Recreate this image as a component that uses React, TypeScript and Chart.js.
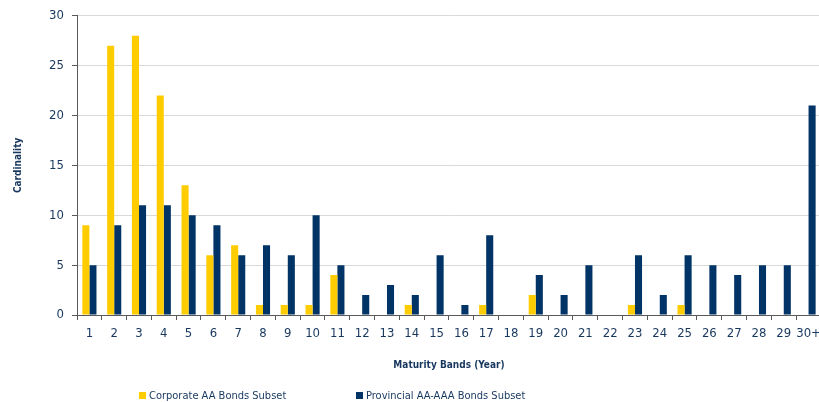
import React, { useEffect, useRef } from "react";
import { Chart, registerables } from "chart.js";

Chart.register(...registerables);

const categories = ["1","2","3","4","5","6","7","8","9","10","11","12","13","14","15","16","17","18","19","20","21","22","23","24","25","26","27","28","29","30+"];
const corporateAA = [9,27,28,22,13,6,7,1,1,1,4,0,0,1,0,0,1,0,2,0,0,0,1,0,1,0,0,0,0,0];
const provincialAAA = [5,9,11,11,10,9,6,7,6,10,5,2,3,2,6,1,8,0,4,2,5,0,6,2,6,5,4,5,5,21];
const seriesNames = ["Corporate AA Bonds Subset", "Provincial AA-AAA Bonds Subset"];
const yTicks = [0, 5, 10, 15, 20, 25, 30];

const YELLOW = "#FFCC00";
const NAVY = "#003366";
const TEXT = "#17375E";
const FONT = "'DejaVu Sans Condensed', 'DejaVu Sans', sans-serif";

const legendPlugin = {
  id: "customLegend",
  afterDraw(chart: any) {
    const ctx = chart.ctx;
    const items = [
      { x: 139, color: YELLOW, label: seriesNames[0] },
      { x: 356, color: NAVY, label: seriesNames[1] },
    ];
    const y = 396;
    ctx.save();
    ctx.font = `11px ${FONT}`;
    ctx.textBaseline = "middle";
    ctx.textAlign = "left";
    for (const it of items) {
      ctx.fillStyle = it.color;
      ctx.fillRect(it.x, y - 4, 7, 7);
      ctx.fillStyle = TEXT;
      ctx.fillText(it.label, it.x + 10, y);
    }
    ctx.restore();
  },
};

export default function App() {
  const ref = useRef<HTMLCanvasElement>(null);
  useEffect(() => {
    document.body.style.margin = "0";
    const chart = new Chart(ref.current!, {
      type: "bar",
      data: {
        labels: categories,
        datasets: [
          { label: seriesNames[0], data: corporateAA, backgroundColor: YELLOW, barPercentage: 1, categoryPercentage: 0.57 },
          { label: seriesNames[1], data: provincialAAA, backgroundColor: NAVY, barPercentage: 1, categoryPercentage: 0.57 },
        ],
      },
      options: {
        responsive: false,
        animation: false,
        devicePixelRatio: 1,
        layout: { padding: { top: 15, right: 6, bottom: 27, left: 0 } },
        plugins: { legend: { display: false }, tooltip: { enabled: false } },
        scales: {
          x: {
            grid: { display: true, drawOnChartArea: false, offset: true, tickLength: 5, color: "#595959" },
            border: { color: "#595959" },
            ticks: { color: TEXT, font: { family: FONT, size: 13 }, padding: 6, maxRotation: 0, autoSkip: false },
            title: { display: true, text: "Maturity Bands (Year)", color: TEXT, font: { family: FONT, size: 10, weight: "bold" }, padding: { top: 0, bottom: 4 } },
            afterFit(scale: any) { scale.height = 60; },
          },
          y: {
            min: 0,
            max: 30,
            afterBuildTicks(scale: any) { scale.ticks = yTicks.map((v) => ({ value: v })); },
            grid: { color: "#D9D9D9", tickLength: 5, tickColor: "#595959" },
            border: { color: "#595959" },
            ticks: { color: TEXT, font: { family: FONT, size: 13 }, padding: 8 },
            title: { display: true, text: "Cardinality", color: TEXT, font: { family: FONT, size: 10, weight: "bold" }, padding: { top: 12, bottom: 0 } },
            afterFit(scale: any) { scale.width = 77; },
          },
        },
      },
      plugins: [legendPlugin],
    });
    return () => chart.destroy();
  }, []);
  return (
    <div style={{ position: "absolute", left: 0, top: 0, width: 819, height: 402, overflow: "hidden", background: "#fff" }}>
      <canvas ref={ref} width={827} height={402} style={{ width: 827, height: 402, display: "block" }} />
    </div>
  );
}
